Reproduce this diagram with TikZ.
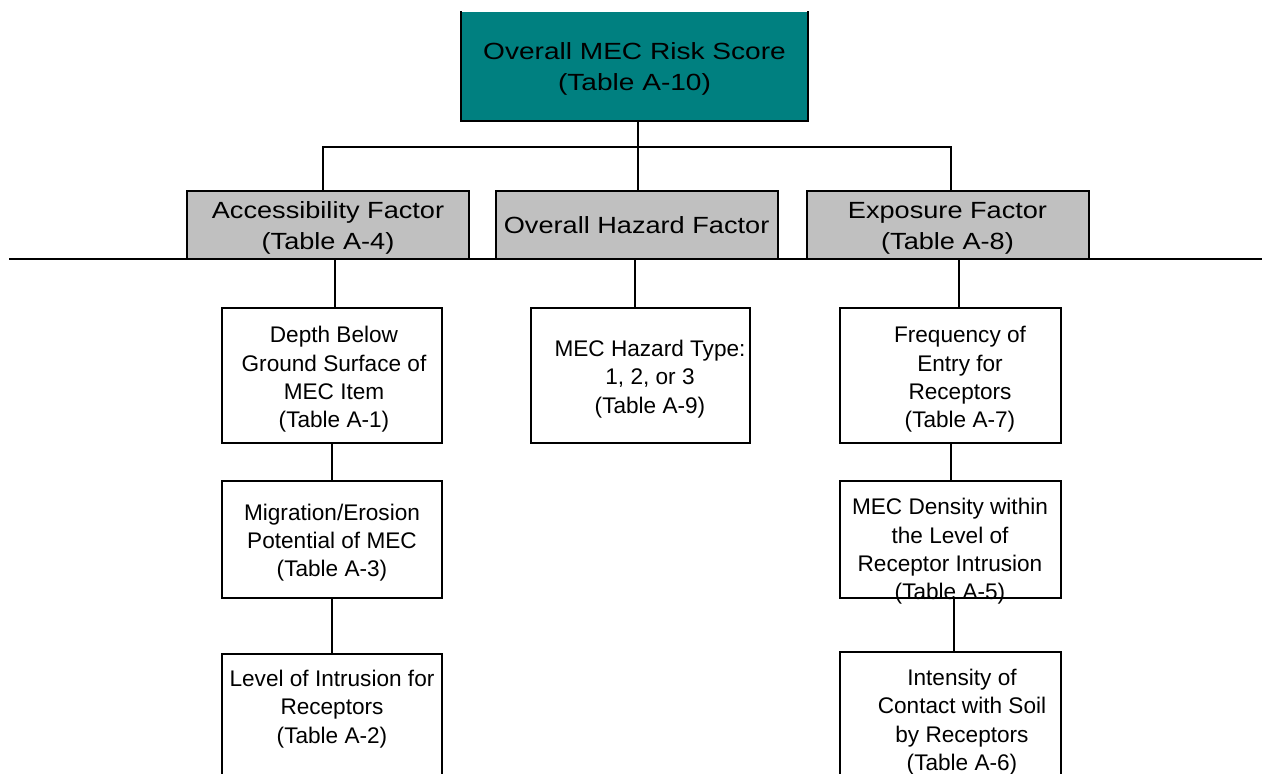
\documentclass[tikz,border=0pt]{standalone}
\usepackage{fontspec}
\setmainfont{Liberation Sans}
\newfontfamily\topfont[FakeStretch=1.2]{Liberation Sans}
\newfontfamily\greyfont[FakeStretch=1.16]{Liberation Sans}
\definecolor{tealbox}{RGB}{0,128,128}
\definecolor{greyfill}{RGB}{192,192,192}
\begin{document}
\begin{tikzpicture}[x=1pt,y=-1pt,line width=2pt,
  topbox/.style={fill=tealbox,minimum width=345pt,minimum height=108pt,inner sep=0pt},
  toptext/.style={inner sep=0pt,align=center,font=\topfont\fontsize{23.4}{31.7}\selectfont},
  greybox/.style={draw,fill=greyfill,minimum width=282pt,minimum height=68pt,inner sep=0pt},
  greytext/.style={inner sep=0pt,align=center,font=\greyfont\fontsize{23.4}{31.2}\selectfont},
  whitebox/.style={draw,fill=white,minimum width=220.6pt,inner sep=0pt},
  lbl/.style={inner sep=0pt,align=center,font=\fontsize{22.6}{28.3}\selectfont}
]
\useasboundingbox (0,0) rectangle (1262,774);
\clip (0,0) rectangle (1262,774);
\fill[white] (0,0) rectangle (1262,774);

% top box (no top border)
\node[topbox] (top) at (634.5,66) {};
\draw (top.north west) -- (top.south west) -- (top.south east) -- (top.north east);
\node[toptext] (topt) at (634.5,69) {Overall MEC Risk Score\\(Table A-10)};

% grey boxes
\node[greybox] (acc) at (328,224.5) {};
\node[greytext] (acct) at (328,228) {Accessibility Factor\\(Table A-4)};
\node[greybox] (haz) at (636.6,224.5) {};
\node[greytext] (hazt) at (636.6,225.5) {Overall Hazard Factor};
\node[greybox] (expo) at (947.5,224.5) {};
\node[greytext] (expot) at (947.5,228) {Exposure Factor\\(Table A-8)};

% bar
\coordinate (barL) at (323,147);
\coordinate (barR) at (951,147);
\coordinate (stem) at (638,147);
\draw (top.south -| stem) -- (stem);
\draw (acc.north -| barL) -- (barL) -- (barR) -- (expo.north -| barR);
\draw (stem) -- (haz.north -| stem);

% long horizontal line
\coordinate (hl) at (9,259);
\coordinate (hr) at (1262,259);
\draw (hl) -- (hr);

% left column
\node[whitebox,minimum height=135pt] (dep) at (332,375.5) {};
\node[lbl] (dept) at (334,379.5) {Depth Below\\Ground Surface of\\MEC Item\\(Table A-1)};
\node[whitebox,minimum height=117pt] (mig) at (332,539.5) {};
\node[lbl] (migt) at (332,542.5) {Migration/Erosion\\Potential of MEC\\(Table A-3)};
\node[whitebox,minimum height=146pt] (lvl) at (332,727) {};
\node[lbl] (lvlt) at (332,709) {Level of Intrusion for\\Receptors\\(Table A-2)};

% middle column
\node[whitebox,minimum width=219.3pt,minimum height=135pt] (typ) at (640.3,375.5) {};
\node[lbl] (typt) at (650,379) {MEC Hazard Type:\\1, 2, or 3\\(Table A-9)};

% right column
\node[whitebox,minimum height=135pt] (frq) at (950.5,375.5) {};
\node[lbl] (frqt) at (960,379.5) {Frequency of\\Entry for\\Receptors\\(Table A-7)};
\node[whitebox,minimum height=117pt] (den) at (950.5,539.5) {};
\node[lbl] (dent) at (950,551.5) {MEC Density within\\the Level of\\Receptor Intrusion\\(Table A-5)};
\node[whitebox,minimum height=148pt] (ints) at (950.5,726) {};
\node[lbl] (intst) at (962,722) {Intensity of\\Contact with Soil\\by Receptors\\(Table A-6)};

% connectors
\draw ([xshift=3pt]dep.north) -- ([xshift=3pt]dep.north |- acc.south);
\draw (dep.south) -- (mig.north);
\draw (mig.south) -- (lvl.north);
\draw ([xshift=-5pt]typ.north) -- ([xshift=-5pt]typ.north |- haz.south);
\draw ([xshift=8.5pt]frq.north) -- ([xshift=8.5pt]frq.north |- expo.south);
\draw (frq.south) -- (den.north);
\draw ([xshift=3.5pt]den.south) -- ([xshift=3.5pt]den.south |- ints.north);
\end{tikzpicture}
\end{document}
